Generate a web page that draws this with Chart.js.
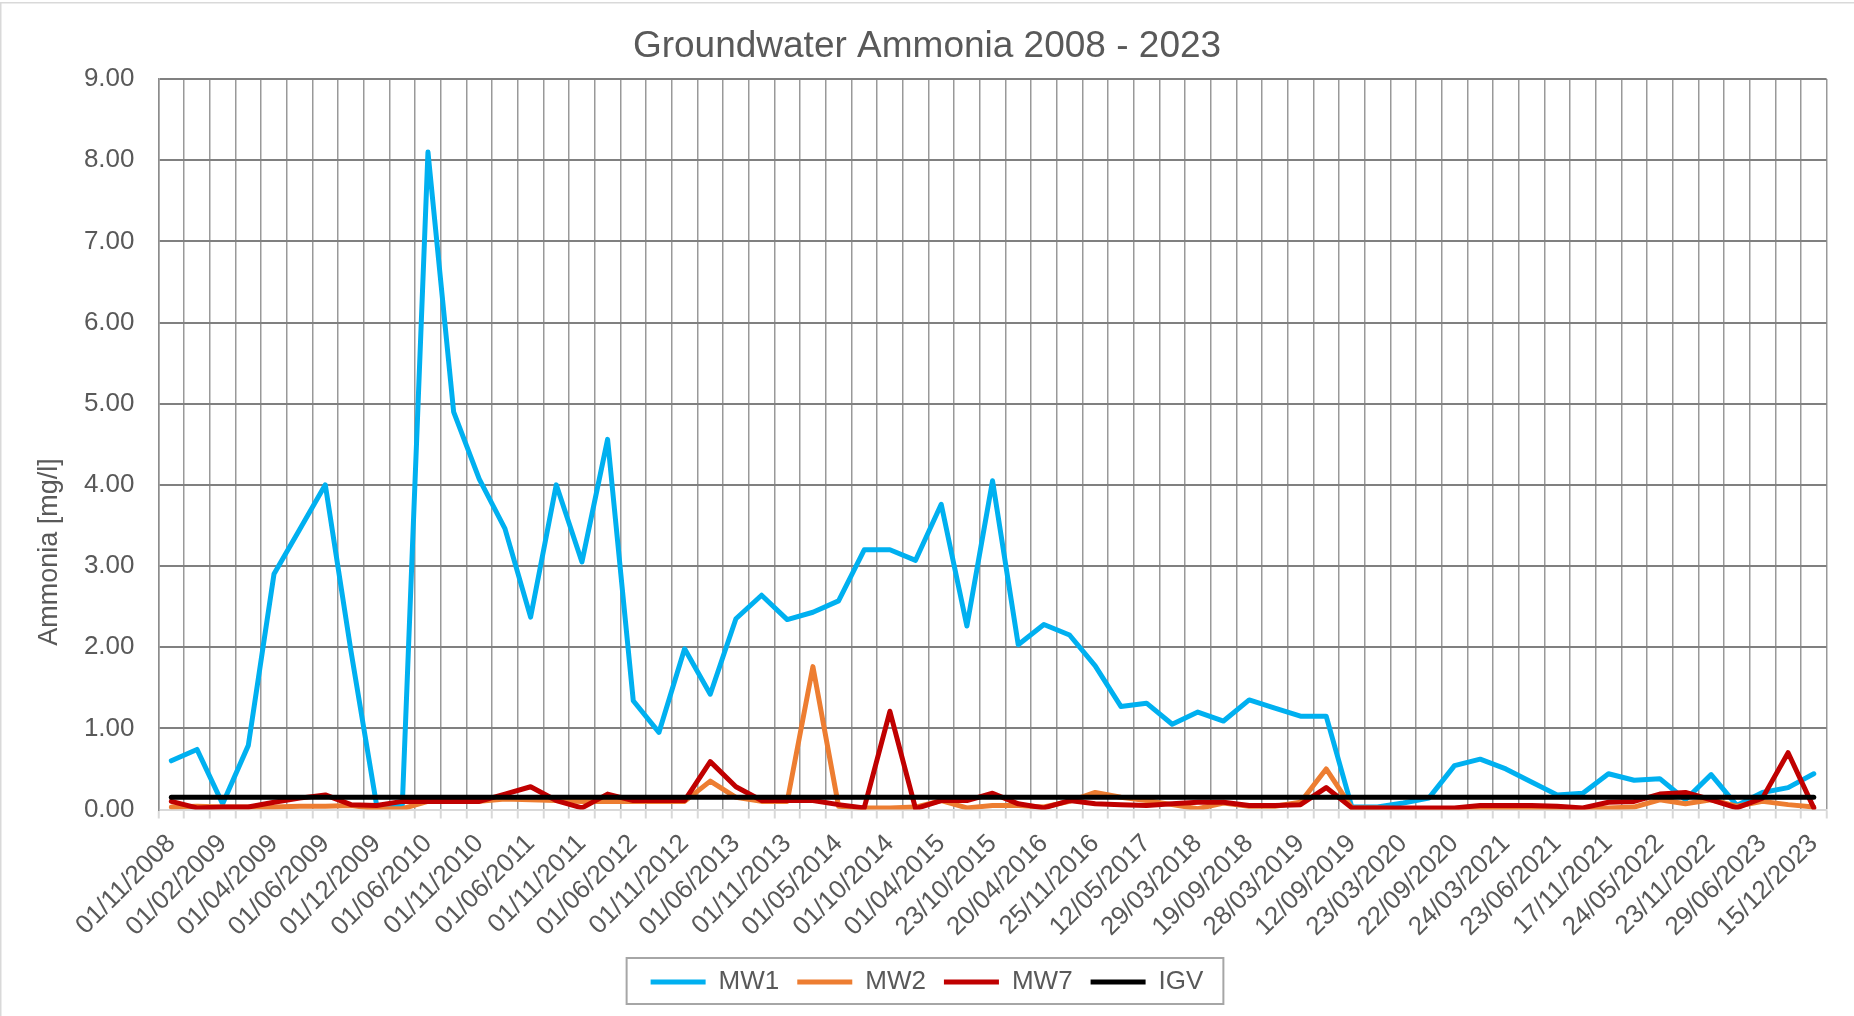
<!DOCTYPE html>
<html>
<head>
<meta charset="utf-8">
<script src="https://cdn.jsdelivr.net/npm/chart.js@4.4.0/dist/chart.umd.min.js"></script>
<style>
html,body{margin:0;padding:0;background:#ffffff;}
#wrap{width:1854px;height:1016px;position:relative;}
</style>
</head>
<body>
<div id="wrap"><canvas id="c"></canvas></div>
<script>
// Sampling dates (every other one is shown on the axis)
const categories = [
  "01/11/2008","01/12/2008","01/02/2009","01/03/2009","01/04/2009","01/05/2009","01/06/2009","01/09/2009",
  "01/12/2009","01/03/2010","01/06/2010","01/09/2010","01/11/2010","01/03/2011","01/06/2011","01/09/2011",
  "01/11/2011","01/03/2012","01/06/2012","01/09/2012","01/11/2012","01/03/2013","01/06/2013","01/09/2013",
  "01/11/2013","01/02/2014","01/05/2014","01/07/2014","01/10/2014","01/01/2015","01/04/2015","01/07/2015",
  "23/10/2015","20/01/2016","20/04/2016","20/07/2016","25/11/2016","15/02/2017","12/05/2017","20/10/2017",
  "29/03/2018","20/06/2018","19/09/2018","12/12/2018","28/03/2019","20/06/2019","12/09/2019","10/12/2019",
  "23/03/2020","22/06/2020","22/09/2020","10/12/2020","24/03/2021","12/05/2021","23/06/2021","15/09/2021",
  "17/11/2021","22/02/2022","24/05/2022","24/08/2022","23/11/2022","23/02/2023","29/06/2023","20/09/2023",
  "15/12/2023"
];

const mw1 = [
  0.60,0.74,0.07,0.79,2.90,3.45,4.00,1.95,0.05,0.05,
  8.10,4.90,4.07,3.46,2.37,4.00,3.05,4.56,1.34,0.95,
  1.98,1.42,2.35,2.64,2.34,2.43,2.57,3.20,3.20,3.07,
  3.76,2.26,4.05,2.03,2.28,2.15,1.77,1.27,1.31,1.05,
  1.20,1.09,1.35,1.25,1.15,1.15,0.03,0.03,0.08,0.14,
  0.54,0.62,0.50,0.34,0.18,0.20,0.44,0.36,0.38,0.12,
  0.43,0.05,0.21,0.27,0.44
];

const mw2 = [
  0.03,0.04,0.03,0.03,0.03,0.04,0.04,0.05,0.01,0.01,
  0.10,0.10,0.10,0.13,0.12,0.11,0.10,0.10,0.10,0.10,
  0.10,0.35,0.15,0.10,0.10,1.76,0.04,0.02,0.02,0.03,
  0.11,0.02,0.05,0.05,0.03,0.10,0.21,0.15,0.11,0.06,
  0.01,0.08,0.04,0.04,0.09,0.50,0.02,0.02,0.01,0.01,
  0.01,0.01,0.01,0.01,0.01,0.01,0.02,0.03,0.12,0.07,
  0.12,0.04,0.10,0.06,0.03
];

const mw7 = [
  0.10,0.02,0.03,0.03,0.09,0.14,0.18,0.06,0.05,0.10,
  0.10,0.10,0.10,0.19,0.28,0.11,0.02,0.19,0.11,0.11,
  0.11,0.59,0.28,0.11,0.11,0.11,0.06,0.02,1.21,0.01,
  0.11,0.11,0.20,0.07,0.02,0.11,0.07,0.06,0.05,0.07,
  0.09,0.09,0.05,0.05,0.06,0.27,0.02,0.02,0.02,0.02,
  0.02,0.05,0.05,0.05,0.04,0.02,0.09,0.10,0.19,0.21,
  0.12,0.02,0.14,0.70,0.02
];

const igv = [
  0.15,0.15,0.15,0.15,0.15,0.15,0.15,0.15,0.15,0.15,
  0.15,0.15,0.15,0.15,0.15,0.15,0.15,0.15,0.15,0.15,
  0.15,0.15,0.15,0.15,0.15,0.15,0.15,0.15,0.15,0.15,
  0.15,0.15,0.15,0.15,0.15,0.15,0.15,0.15,0.15,0.15,
  0.15,0.15,0.15,0.15,0.15,0.15,0.15,0.15,0.15,0.15,
  0.15,0.15,0.15,0.15,0.15,0.15,0.15,0.15,0.15,0.15,
  0.15,0.15,0.15,0.15,0.15
];

const seriesNames = ["MW1","MW2","MW7","IGV"];
const yTickValues = [0,1,2,3,4,5,6,7,8,9];
const titleText = "Groundwater Ammonia 2008 - 2023";
const yAxisTitle = "Ammonia [mg/l]";

const FONT = "'Liberation Sans', Arial, sans-serif";
const TXT = "#595959";

const frame = {
  id: 'frame',
  beforeDraw(chart) {
    const ctx = chart.ctx;
    ctx.save();
    ctx.fillStyle = '#ffffff';
    ctx.fillRect(0, 0, chart.width, chart.height);
    ctx.strokeStyle = '#d9d9d9';
    ctx.lineWidth = 1.5;
    ctx.strokeRect(0.75, 2.75, chart.width + 10, chart.height + 10);
    ctx.restore();
  },
  afterDraw(chart) {
    const ctx = chart.ctx;
    ctx.save();
    // vertical axis title
    ctx.translate(50, 552);
    ctx.rotate(-Math.PI / 2);
    ctx.fillStyle = TXT;
    ctx.font = "27px " + FONT;
    ctx.textAlign = 'center';
    ctx.textBaseline = 'middle';
    ctx.fillText(yAxisTitle, 0, 0);
    ctx.restore();
    // legend border
    const lg = chart.legend;
    if (lg && lg.legendHitBoxes && lg.legendHitBoxes.length) {
      const hb = lg.legendHitBoxes;
      let l = Infinity, r = -Infinity, cy = 0;
      hb.forEach(h => { l = Math.min(l, h.left); r = Math.max(r, h.left + h.width); cy = h.top + h.height / 2; });
      ctx.save();
      ctx.strokeStyle = '#a6a6a6';
      ctx.lineWidth = 2;
      ctx.strokeRect(l - 24, cy - 24, (r - l) + 44, 46);
      ctx.restore();
    }
  }
};

const ds = (label, data, color, order) => ({
  label, data, borderColor: color, backgroundColor: color,
  borderWidth: 5, pointRadius: 0, pointHoverRadius: 0, tension: 0, fill: false,
  order, borderCapStyle: 'round', borderJoinStyle: 'round'
});

new Chart(document.getElementById('c'), {
  type: 'line',
  data: {
    labels: categories,
    datasets: [
      ds(seriesNames[0], mw1, '#00B0F0', 4),
      ds(seriesNames[1], mw2, '#ED7D31', 3),
      ds(seriesNames[2], mw7, '#C00000', 2),
      ds(seriesNames[3], igv, '#000000', 1)
    ]
  },
  options: {
    responsive: true,
    maintainAspectRatio: false,
    animation: false,
    events: [],
    layout: { padding: { left: 27.4, right: 27.4, top: 0, bottom: 11 } },
    plugins: {
      title: {
        display: true, text: titleText, color: TXT,
        font: { family: FONT, size: 37, weight: 'normal', lineHeight: 1.2 },
        padding: { top: 24.3, bottom: 10.3 }
      },
      legend: {
        display: true, position: 'bottom',
        labels: {
          usePointStyle: true, pointStyle: 'line', pointStyleWidth: 55,
          boxHeight: 26, padding: 18, color: TXT,
          font: { family: FONT, size: 26 },
          sort: (a, b) => a.datasetIndex - b.datasetIndex
        }
      },
      tooltip: { enabled: false }
    },
    scales: {
      x: {
        type: 'category',
        offset: true,
        grid: { offset: true, color: '#999999', lineWidth: 1.5, drawTicks: true, tickLength: 9, tickColor: '#d9d9d9', tickWidth: 2 },
        border: { display: true, color: '#d9d9d9', width: 2 },
        ticks: {
          autoSkip: false, maxRotation: 45, minRotation: 45, padding: 10,
          color: TXT, font: { family: FONT, size: 26 },
          callback: function(v, i) { return i % 2 === 0 ? categories[i] : ''; }
        },
        afterFit(scale) { scale.height = 141.5; }
      },
      y: {
        min: 0, max: 9,
        afterBuildTicks(scale) { scale.ticks = yTickValues.map(v => ({ value: v })); },
        grid: { color: '#808080', lineWidth: 2, drawTicks: false },
        border: { display: true, color: '#8c8c8c', width: 1.5 },
        ticks: {
          padding: 24, color: TXT, font: { family: FONT, size: 26 },
          callback: v => Number(v).toFixed(2)
        },
        afterFit(scale) { scale.width = 131.1; }
      }
    }
  },
  plugins: [frame]
});
</script>
</body>
</html>
